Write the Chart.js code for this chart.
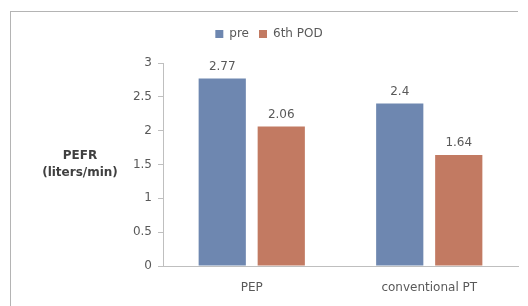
<!DOCTYPE html>
<html>
<head>
<meta charset="utf-8">
<script src="https://cdn.jsdelivr.net/npm/chart.js@4.4.1/dist/chart.umd.min.js"></script>
<style>
  html, body { margin: 0; padding: 0; background: #ffffff; }
  #wrap { position: relative; width: 528px; height: 306px; overflow: hidden; }
  #frame { position: absolute; left: 10px; top: 11px; width: 508px; height: 310px;
           border-left: 1.5px solid #b4b4b4; border-top: 1.5px solid #b4b4b4; box-sizing: border-box; }
  #ytitle { position: absolute; left: 30px; width: 100px; top: 147px; text-align: center;
            font-family: "DejaVu Sans", sans-serif; font-weight: bold; font-size: 12px;
            line-height: 17px; color: #404040; }
  canvas { position: absolute; left: 0; top: 0; }
</style>
</head>
<body>
<div id="wrap">
  <div id="frame"></div>
  <canvas id="c" width="528" height="306"></canvas>
  <div id="ytitle">PEFR<br>(liters/min)</div>
</div>
<script>
const categories = ['PEP', 'conventional PT'];
const seriesNames = ['pre', '6th POD'];
const preValues = [2.77, 2.4];
const podValues = [2.06, 1.64];
const yMin = 0, yMax = 3, yStep = 0.5;

const textColor = '#595959';
const fontFamily = '"DejaVu Sans", sans-serif';

const valueLabels = {
  id: 'valueLabels',
  afterDatasetsDraw(chart) {
    const ctx = chart.ctx;
    ctx.save();
    ctx.font = '12px ' + fontFamily;
    ctx.fillStyle = textColor;
    ctx.textAlign = 'center';
    ctx.textBaseline = 'bottom';
    chart.data.datasets.forEach((ds, di) => {
      const meta = chart.getDatasetMeta(di);
      meta.data.forEach((el, i) => {
        ctx.fillText(String(ds.data[i]), el.x, el.y - 6);
      });
    });
    ctx.restore();
  }
};

const legendSpace = {
  id: 'legendSpace',
  beforeLayout(chart) {
    const lg = chart.legend;
    if (lg && !lg._patched) {
      const orig = lg.fit.bind(lg);
      lg.fit = function () { orig(); this.height += 13; this.minSize && (this.minSize.height = this.height); };
      lg._patched = true;
    }
  },
  afterLayout(chart) {
    const lg = chart.legend;
    if (lg) { lg.left += 10; lg.right += 10; }
  }
};

new Chart(document.getElementById('c'), {
  type: 'bar',
  data: {
    labels: categories,
    datasets: [
      { label: seriesNames[0], data: preValues, backgroundColor: '#6e87b0' },
      { label: seriesNames[1], data: podValues, backgroundColor: '#c27a62' }
    ]
  },
  options: {
    responsive: false,
    animation: false,
    devicePixelRatio: 1,
    categoryPercentage: 0.665,
    barPercentage: 0.8,
    layout: { padding: { left: 0, right: 10, top: 18, bottom: 0 } },
    plugins: {
      legend: {
        position: 'top',
        labels: {
          boxWidth: 8, boxHeight: 8, padding: 10,
          color: textColor,
          font: { family: fontFamily, size: 12 }
        }
      },
      tooltip: { enabled: false }
    },
    scales: {
      x: {
        grid: { display: false, drawTicks: false },
        border: { display: true, color: '#bfbfbf', width: 1 },
        ticks: { color: textColor, font: { family: fontFamily, size: 12 }, padding: 15 },
        afterFit(scale) { scale.height = 40; }
      },
      y: {
        min: yMin, max: yMax,
        grid: { display: true, drawOnChartArea: false, drawTicks: true, tickLength: 5, color: '#bfbfbf' },
        border: { display: true, color: '#bfbfbf', width: 1 },
        ticks: {
          stepSize: yStep, color: textColor, padding: 6,
          font: { family: fontFamily, size: 12 },
          callback: v => String(v)
        },
        afterFit(scale) { scale.width = 163; }
      }
    }
  },
  plugins: [legendSpace, valueLabels]
});
</script>
</body>
</html>
